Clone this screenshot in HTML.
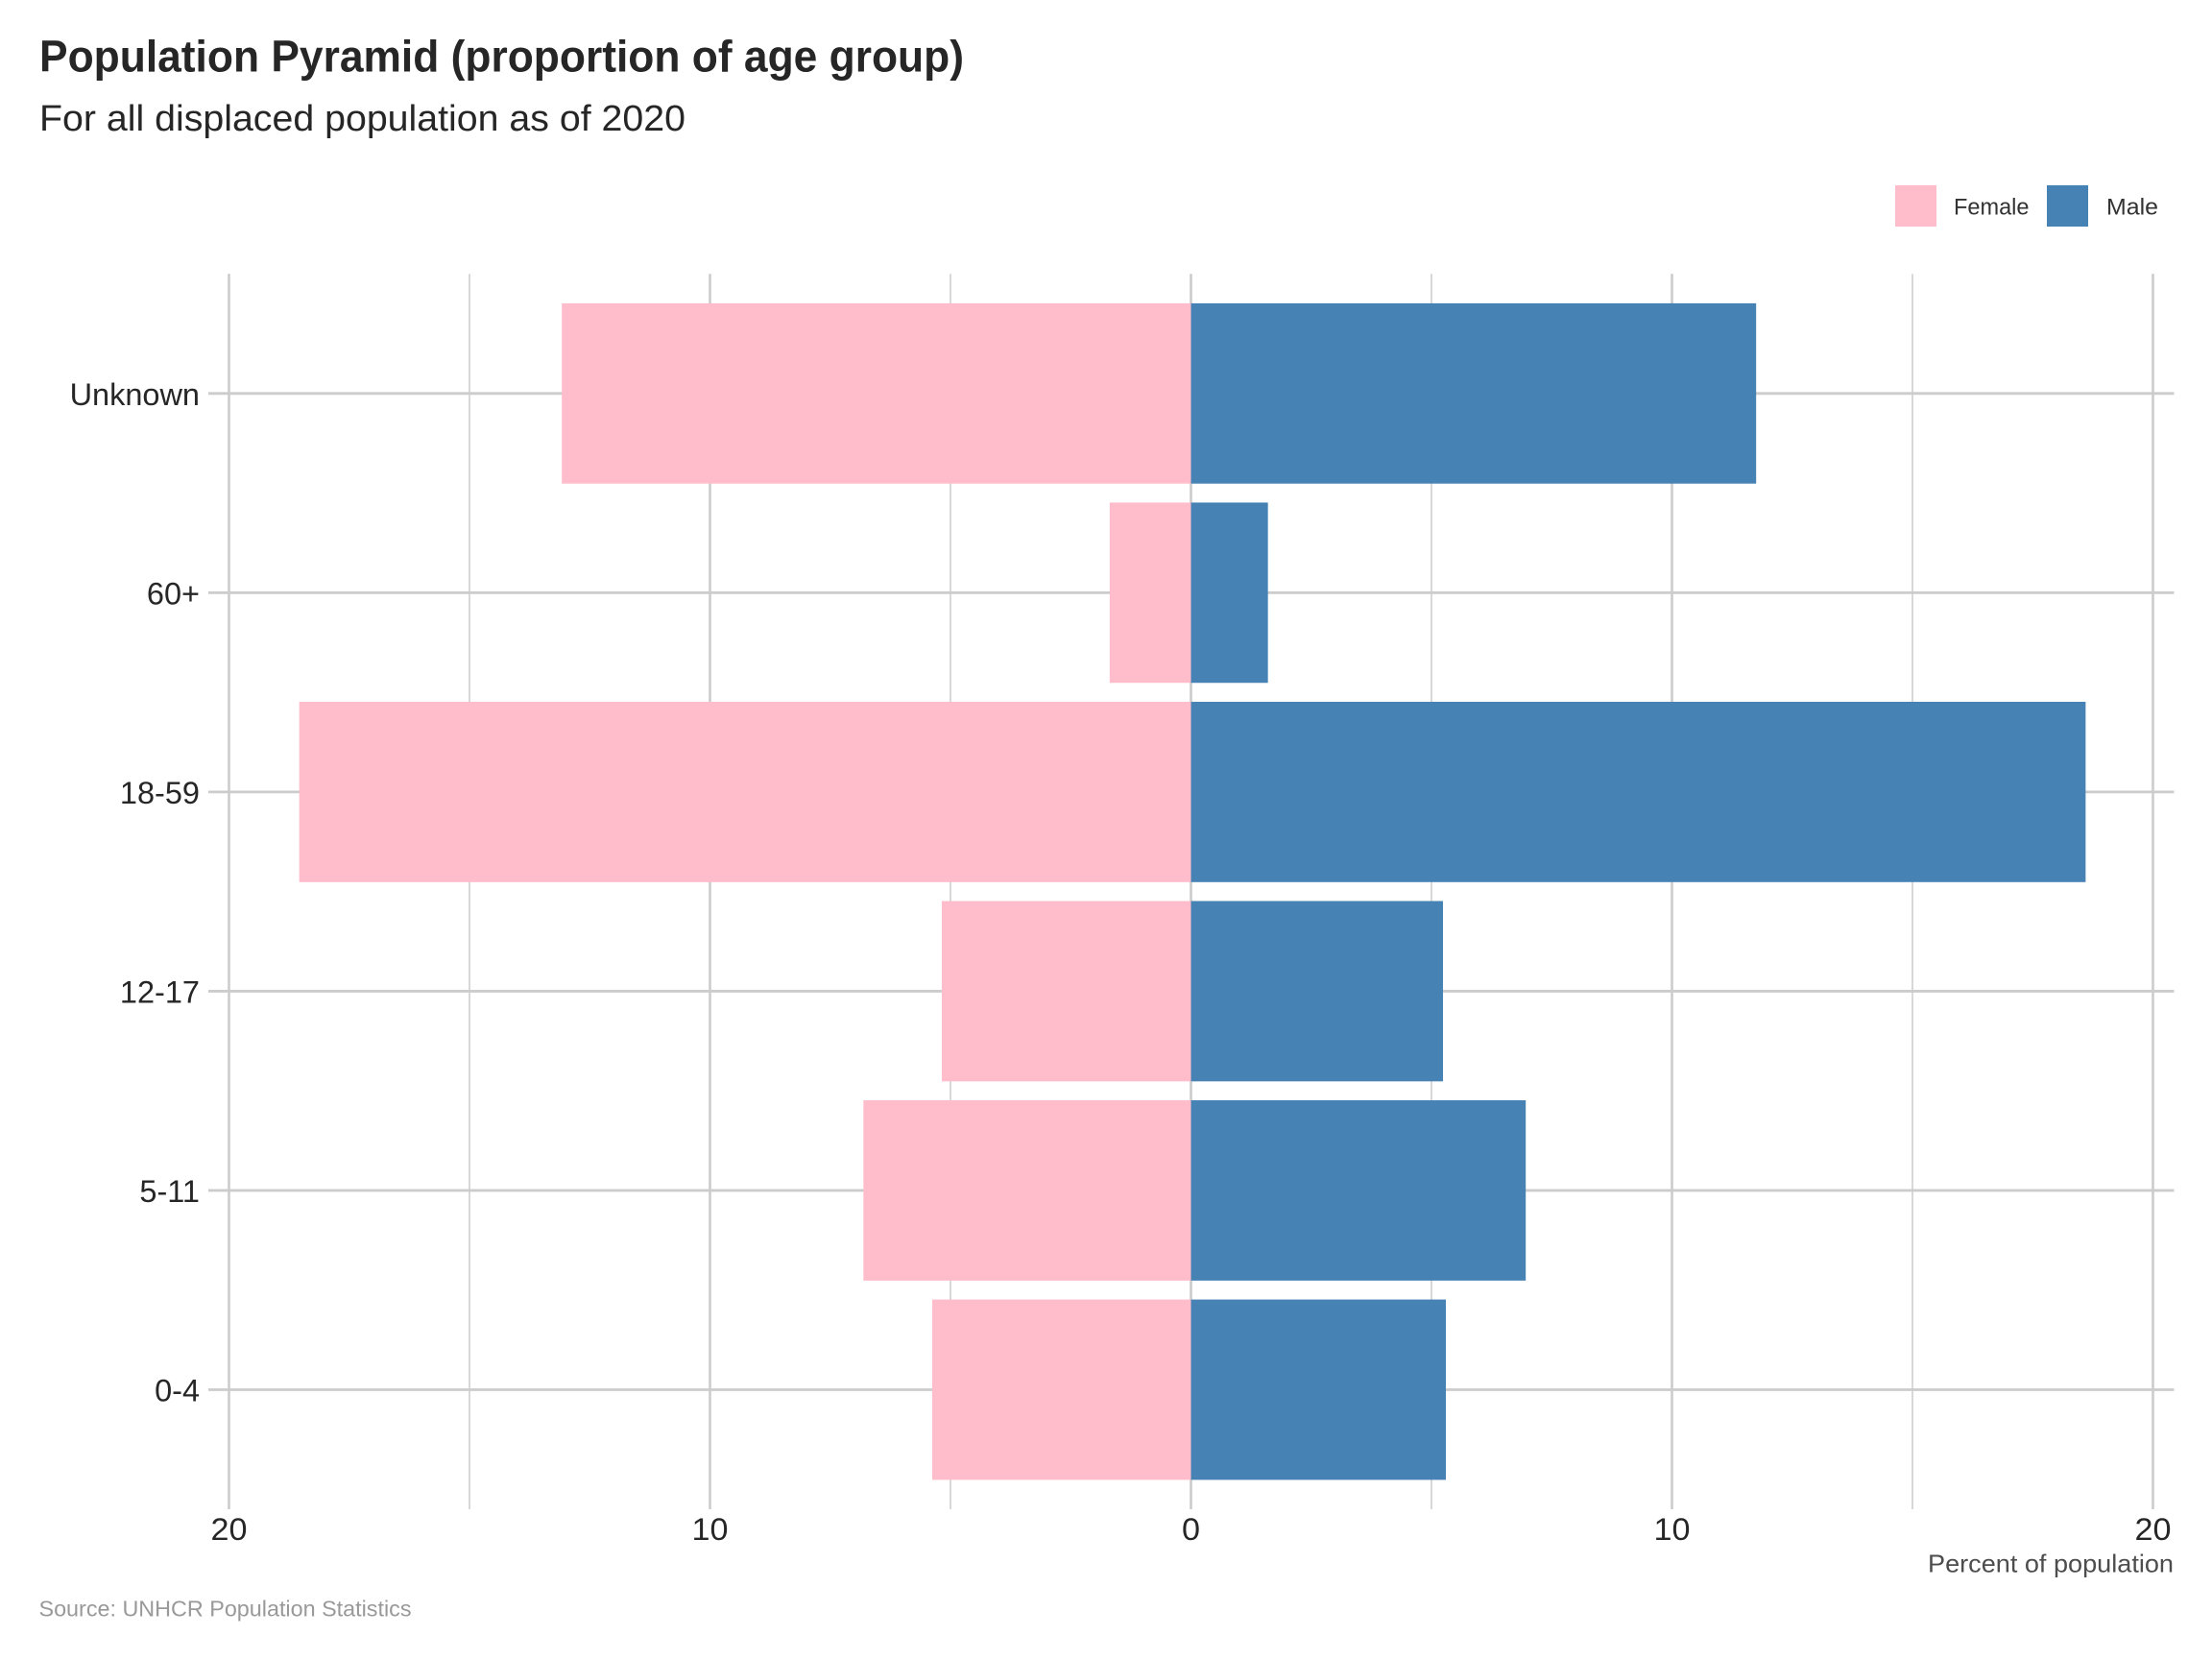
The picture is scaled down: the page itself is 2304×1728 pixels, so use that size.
<!DOCTYPE html>
<html lang="en">
<head>
<meta charset="utf-8">
<title>Population Pyramid</title>
<style>
html,body{margin:0;padding:0;background:#fff}
svg{display:block}
text{font-family:"Liberation Sans",sans-serif}
</style>
</head>
<body>
<svg id="chart" width="2304" height="1728" viewBox="0 0 2304 1728" xmlns="http://www.w3.org/2000/svg">
  <rect width="2304" height="1728" fill="#ffffff"/>
  <text x="41" y="74.5" font-size="46" font-weight="700" fill="#262626" textLength="963" lengthAdjust="spacingAndGlyphs">Population Pyramid (proportion of age group)</text>
  <text x="41" y="136" font-size="38" fill="#262626" textLength="673" lengthAdjust="spacingAndGlyphs">For all displaced population as of 2020</text>
  <g>
    <rect x="1974" y="193" width="43" height="43" fill="#FFBCCB"/>
    <text x="2035" y="223.3" font-size="24.5" fill="#333333" textLength="78.5" lengthAdjust="spacingAndGlyphs">Female</text>
    <rect x="2132" y="193" width="43" height="43" fill="#4682B4"/>
    <text x="2194" y="223.3" font-size="24.5" fill="#333333" textLength="54" lengthAdjust="spacingAndGlyphs">Male</text>
  </g>
  <g id="grid"></g>
  <g id="bars"></g>
  <g id="axis-labels"></g>
  <text x="2264" y="1637.3" font-size="26" fill="#4d4d4d" text-anchor="end" textLength="256" lengthAdjust="spacingAndGlyphs">Percent of population</text>
  <text x="40.5" y="1683.3" font-size="23" fill="#999999" textLength="388" lengthAdjust="spacingAndGlyphs">Source: UNHCR Population Statistics</text>
</svg>
<script>
const categories = ["Unknown", "60+", "18-59", "12-17", "5-11", "0-4"];
const femaleValues = [13.08, 1.69, 18.54, 5.18, 6.81, 5.38];
const maleValues = [11.75, 1.60, 18.60, 5.24, 6.96, 5.30];
const xMajorTicks = [-20, -10, 0, 10, 20];
const xMinorTicks = [-15, -5, 5, 15];

const NS = "http://www.w3.org/2000/svg";
const panel = { left: 217, right: 2264.5, top: 285.3, bottom: 1572 };
const gridColor = "#cccccc";

function xScale(v) {
  const x0 = 1240.5, pxPerUnit = 50.1;
  return x0 + v * pxPerUnit;
}
const step = (panel.bottom - panel.top) / (categories.length - 1 + 1.2);
function yScale(i) {
  return panel.top + step * (0.6 + i);
}
const barHeight = step * 0.905;

function make(tag, attrs, parent) {
  const el = document.createElementNS(NS, tag);
  for (const k in attrs) el.setAttribute(k, attrs[k]);
  parent.appendChild(el);
  return el;
}

const grid = document.getElementById("grid");
const bars = document.getElementById("bars");
const labels = document.getElementById("axis-labels");

xMinorTicks.forEach(function (t) {
  const x = xScale(t);
  const line = make("line", { x1: x, x2: x, y1: panel.top, y2: panel.bottom, stroke: gridColor, "stroke-width": 1.5 }, grid);
  
  
});
xMajorTicks.forEach(function (t) {
  const x = xScale(t);
  const line = make("line", { x1: x, x2: x, y1: panel.top, y2: panel.bottom, stroke: gridColor, "stroke-width": 2.6 }, grid);
  
  
});
categories.forEach(function (c, i) {
  const y = yScale(i);
  const line = make("line", { x1: panel.left, x2: panel.right, y1: y, y2: y, stroke: gridColor, "stroke-width": 2.8 }, grid);
  
  
});

categories.forEach(function (c, i) {
  const y = yScale(i) - barHeight / 2;
  const xZero = xScale(0);
  const xF = xScale(-femaleValues[i]);
  const xM = xScale(maleValues[i]);
  const f = make("rect", { x: xF, y: y, width: xZero - xF, height: barHeight, fill: "#FFBCCB" }, bars);
  
  
  const m = make("rect", { x: xZero, y: y, width: xM - xZero, height: barHeight, fill: "#4682B4" }, bars);
  
  
});

function fitText(el, factor) {
  const w = el.getComputedTextLength();
  el.setAttribute("textLength", (w * factor).toFixed(1));
  el.setAttribute("lengthAdjust", "spacingAndGlyphs");
}

categories.forEach(function (c, i) {
  const t = make("text", { x: 208, y: yScale(i) + 12, "font-size": 32, fill: "#262626", "text-anchor": "end" }, labels);
  t.textContent = c;
  
  
  fitText(t, 1.015);
});
xMajorTicks.forEach(function (v) {
  const t = make("text", { x: xScale(v), y: 1604, "font-size": 32.5, fill: "#262626", "text-anchor": "middle" }, labels);
  t.textContent = String(Math.abs(v));
  
  
  fitText(t, 1.05);
});
</script>
</body>
</html>
